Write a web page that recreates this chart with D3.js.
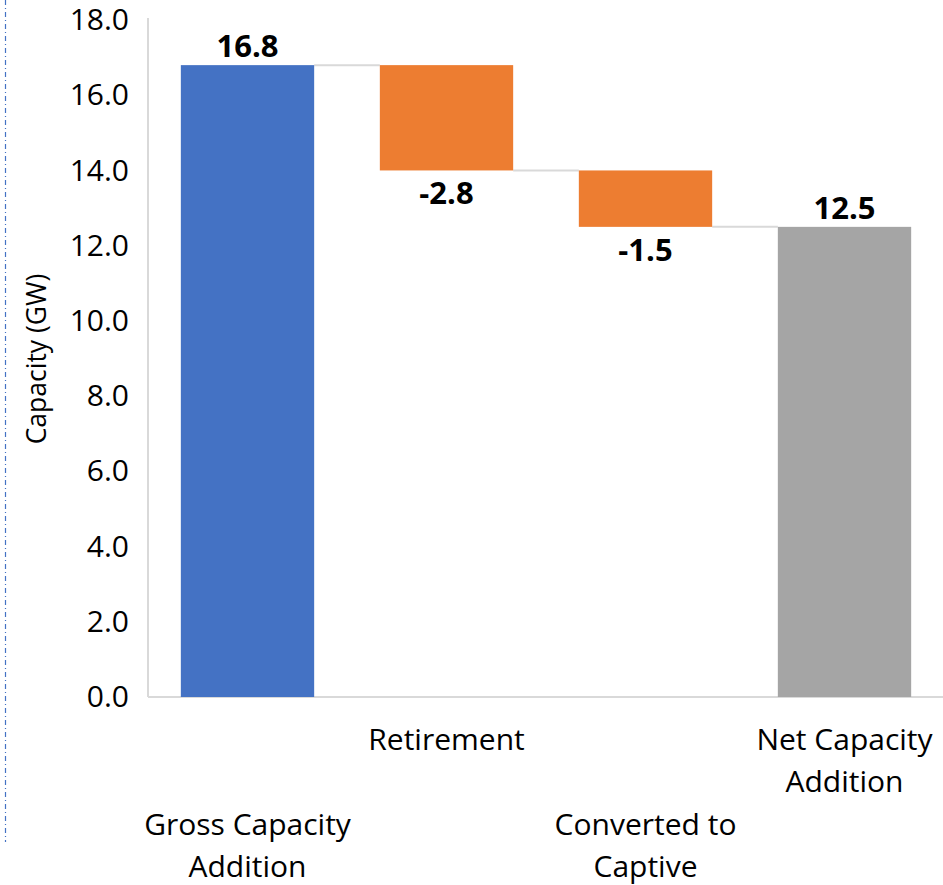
<!DOCTYPE html>
<html>
<head>
<meta charset="utf-8">
<script src="https://cdn.jsdelivr.net/npm/d3@7"></script>
<style>
  body { margin: 0; background: #fff; }
  text { font-family: "Open Sans", "Noto Sans", sans-serif; fill: #000; }
</style>
</head>
<body>
<div id="chart"></div>
<script>
// waterfall data
var categories = ["Gross Capacity Addition", "Retirement", "Converted to Captive", "Net Capacity Addition"];
var labelLines = [["Gross Capacity", "Addition"], ["Retirement"], ["Converted to", "Captive"], ["Net Capacity", "Addition"]];
var values = [16.8, -2.8, -1.5, 12.5];
var kinds = ["total", "delta", "delta", "total"];
var yTicks = [0, 2, 4, 6, 8, 10, 12, 14, 16, 18];

var width = 943, height = 885;

var color = {total0: "#4472c4", delta: "#ed7d31", total3: "#a5a5a5"};

// plain hyphen for negatives, like the original
var fmt = function(v) { return d3.format(".1f")(v).replace("\u2212", "-"); };

var svg = d3.select("#chart").append("svg")
  .attr("width", width)
  .attr("height", height);

var xScale = d3.scaleBand()
  .domain(categories)
  .range([148, 944])
  .paddingInner(0.33)
  .paddingOuter(0.165);

var yScale = d3.scaleLinear()
  .domain([0, 18])
  .range([697, 20]);

// compute start/end of each bar
var running = 0;
var bars = categories.map(function(c, i) {
  var b = {name: c, value: values[i], kind: kinds[i]};
  if (kinds[i] === "total") {
    b.y0 = 0; b.y1 = values[i];
    running = values[i];
  } else {
    b.y0 = running + values[i]; b.y1 = running;
    running = running + values[i];
  }
  b.end = running;
  return b;
});

// left dash-dot border
svg.append("line")
  .attr("x1", 5.5).attr("x2", 5.5)
  .attr("y1", 0).attr("y2", 842)
  .style("stroke", "#4472c4")
  .style("stroke-width", 1.2)
  .style("stroke-dasharray", "5,3,1,3");

// y axis
var yAxis = svg.append("g")
  .attr("transform", "translate(148,0)")
  .call(d3.axisLeft(yScale).tickValues(yTicks).tickSize(0).tickPadding(19).tickFormat(fmt));
yAxis.select(".domain").remove();
yAxis.selectAll("text")
  .style("font-size", "30px")
  .style("font-family", "'Open Sans', sans-serif")
  .attr("fill", "#000");

svg.append("line")
  .attr("x1", 148).attr("x2", 148)
  .attr("y1", 18).attr("y2", yScale(0))
  .style("stroke", "#d9d9d9")
  .style("stroke-width", 2);

svg.append("line")
  .attr("x1", 148).attr("x2", 943)
  .attr("y1", yScale(0)).attr("y2", yScale(0))
  .style("stroke", "#d9d9d9")
  .style("stroke-width", 2);

// y title
svg.append("text")
  .attr("transform", "translate(46," + 359 + ") rotate(-90)")
  .attr("text-anchor", "middle")
  .style("font-size", "26.5px")
  .text("Capacity (GW)");

// connectors
svg.selectAll(".connector")
  .data(bars.slice(0, bars.length - 1))
  .enter().append("line")
    .attr("class", "connector")
    .attr("x1", function(d) { return xScale(d.name) + xScale.bandwidth(); })
    .attr("x2", function(d, i) { return xScale(categories[i + 1]); })
    .attr("y1", function(d) { return yScale(d.end); })
    .attr("y2", function(d) { return yScale(d.end); })
    .style("stroke", "#d9d9d9")
    .style("stroke-width", 2);

// bars
svg.selectAll(".bar")
  .data(bars)
  .enter().append("rect")
    .attr("class", "bar")
    .attr("x", function(d) { return xScale(d.name); })
    .attr("width", xScale.bandwidth())
    .attr("y", function(d) { return yScale(d.y1); })
    .attr("height", function(d) { return yScale(d.y0) - yScale(d.y1); })
    .attr("fill", function(d, i) {
      if (d.kind === "delta") return color.delta;
      return i === 0 ? color.total0 : color.total3;
    });

// value labels
svg.selectAll(".vlabel")
  .data(bars)
  .enter().append("text")
    .attr("class", "vlabel")
    .attr("x", function(d) { return xScale(d.name) + xScale.bandwidth() / 2; })
    .attr("y", function(d) {
      return d.kind === "total" ? yScale(d.y1) - 8 : yScale(d.y0) + 34;
    })
    .attr("text-anchor", "middle")
    .style("font-size", "31px")
    .style("font-weight", "bold")
    .text(function(d) { return fmt(d.value); });

// category labels, staggered
var catLabel = svg.selectAll(".cat")
  .data(labelLines)
  .enter().append("text")
    .attr("class", "cat")
    .attr("text-anchor", "middle")
    .style("font-size", "30px")
    .attr("transform", function(d, i) {
      var x = xScale(categories[i]) + xScale.bandwidth() / 2;
      var y = i % 2 === 0 ? 835 : 750;
      return "translate(" + x + "," + y + ")";
    });

catLabel.selectAll("tspan")
  .data(function(d) { return d; })
  .enter().append("tspan")
    .attr("x", 0)
    .attr("y", function(d, i) { return i * 42; })
    .text(function(d) { return d; });
</script>
</body>
</html>
